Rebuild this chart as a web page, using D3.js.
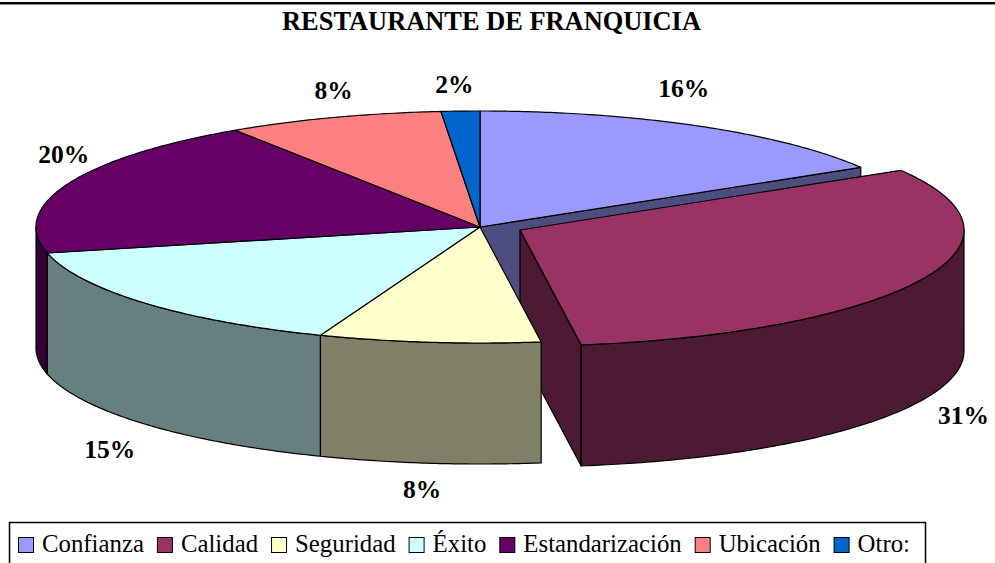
<!DOCTYPE html>
<html><head><meta charset="utf-8">
<script src="https://cdn.jsdelivr.net/npm/d3@7"></script>
<style>html,body{margin:0;padding:0;background:#fff}svg{display:block}text{font-family:"Liberation Serif",serif;fill:#000}</style>
</head><body><svg id="c" width="995" height="563"></svg>
<script>
const titleText = "RESTAURANTE DE FRANQUICIA";
const categories = ["Confianza","Calidad","Seguridad","Éxito","Estandarización","Ubicación","Otro:"];
const sliceShares = [16.4,31.4,8.05,15.55,19.3,7.9,1.4];
const percentLabels = ["16%","31%","8%","15%","20%","8%","2%"];
const topColors = ["#9999FF","#993366","#FFFFCC","#CCFFFF","#660066","#FF8080","#0066CC"];
const sideColors = ["#4D4D80","#4D1A33","#808066","#668080","#330033","#804040","#003366"];
const explodedSlices = [0,1,0,0,0,0,0];
const labelNudges = [[-15,-38],[43,14],[-7,26],[-35,25],[-4,-30],[0,-27],[-6,-27]];

const W=995,H=563,cx=480,cy=227,rx=444,ry=116,depth=121,explodeX=40,explodeY=3;
const svg=d3.select("#c");
const pie=d3.pie().sort(null).value(d=>d).startAngle(0).endAngle(2*Math.PI);
const arcs=pie(sliceShares);
const sx=d3.scaleLinear().domain([-1,1]).range([cx-rx,cx+rx]);
const sy=d3.scaleLinear().domain([-1,1]).range([cy-ry,cy+ry]);
const line=d3.line();
function off(i){return explodedSlices[i]?[explodeX,explodeY]:[0,0];}
function pt(a,i,z=0){const o=off(i);return [sx(Math.sin(a))+o[0],sy(-Math.cos(a))+o[1]+z];}
function rim(a0,a1,i,z=0){const n=Math.max(2,Math.ceil((a1-a0)/0.01));return d3.range(n+1).map(k=>pt(a0+(a1-a0)*k/n,i,z));}
function apex(i,z=0){const o=off(i);return [cx+o[0],cy+o[1]+z];}

const g=svg.append("g").attr("stroke","#000").attr("stroke-width",1.2).attr("stroke-linejoin","round");
function poly(p,fill){g.append("path").attr("d",line(p)+"Z").attr("fill",fill);}
const PI=Math.PI;

// Cut faces that look toward the viewer, then the outer wall, back to front
arcs.forEach((d,i)=>{
  if(explodedSlices[i+1]){ // the gap exposes this slice's end face
    poly([apex(i),pt(d.endAngle,i),pt(d.endAngle,i,depth),apex(i,depth)],sideColors[i]);
  }
});
arcs.forEach((d,i)=>{
  if(explodedSlices[i]){
    poly([apex(i),pt(d.endAngle,i),pt(d.endAngle,i,depth),apex(i,depth)],sideColors[i]);
    const a0=Math.max(d.startAngle,PI/2),a1=Math.min(d.endAngle,3*PI/2);
    poly(rim(a0,a1,i).concat(rim(a0,a1,i,depth).reverse()),sideColors[i]);
    poly([apex(i)].concat(rim(d.startAngle,d.endAngle,i)),topColors[i]);
  }
});
// Remaining walls, drawn from the far left side inward
[4,3,2].forEach(i=>{
  const d=arcs[i];
  const a0=Math.max(d.startAngle,PI/2),a1=Math.min(d.endAngle,3*PI/2);
  if(a1>a0) poly(rim(a0,a1,i).concat(rim(a0,a1,i,depth).reverse()),sideColors[i]);
});
arcs.forEach((d,i)=>{
  if(!explodedSlices[i]) poly([apex(i)].concat(rim(d.startAngle,d.endAngle,i)),topColors[i]);
});

// Top rule
svg.append("rect").attr("x",0).attr("y",2).attr("width",W).attr("height",2.5).attr("fill","#000");
// Title
svg.append("text").attr("x",491.5).attr("y",30).attr("text-anchor","middle")
  .attr("font-size",26.4).attr("font-weight","bold").text(titleText);

// Percent labels
arcs.forEach((d,i)=>{
  const mid=(d.startAngle+d.endAngle)/2;
  const front=Math.cos(mid)<0;
  const p=pt(mid,i,front?depth:0);
  svg.append("text").attr("x",p[0]+labelNudges[i][0]).attr("y",p[1]+labelNudges[i][1]+9)
    .attr("text-anchor","middle").attr("font-size",25.5).attr("font-weight","bold").text(percentLabels[i]);
});

// Legend
svg.append("path").attr("d","M9.5,563V522.5H925.5V563").attr("fill","#fff").attr("stroke","#000").attr("stroke-width",1.5);
let lx=18;
categories.forEach((c,i)=>{
  svg.append("rect").attr("x",lx+.5).attr("y",537.5).attr("width",15).attr("height",15)
    .attr("fill",topColors[i]).attr("stroke","#000").attr("stroke-width",1);
  const t=svg.append("text").attr("x",lx+24).attr("y",552).attr("font-size",24.8).text(c);
  lx+=24+t.node().getComputedTextLength()+13;
});
</script></body></html>
